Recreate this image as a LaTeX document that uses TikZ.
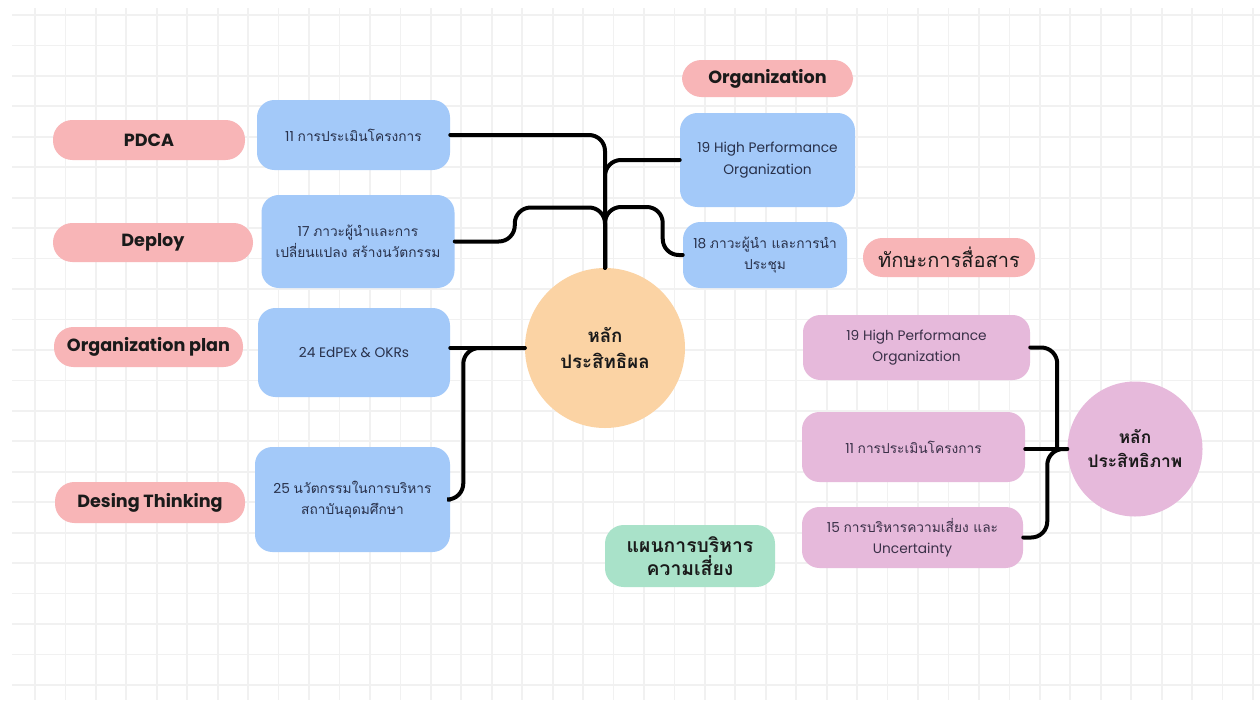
\documentclass[tikz,border=0pt]{standalone}
\usepackage{fontspec}
\setmainfont{Poppins}
\newfontfamily\thai[Script=Thai]{Loma}
\usetikzlibrary{calc}

\definecolor{gridc}{HTML}{F1F1F1}
\definecolor{bluec}{HTML}{A3C9F9}
\definecolor{pillc}{HTML}{F8B5B7}
\definecolor{peachc}{HTML}{FBD3A4}
\definecolor{orchidc}{HTML}{E6B9DB}
\definecolor{mintc}{HTML}{A9E2C9}
\definecolor{inkc}{HTML}{1A1A1A}
\definecolor{boxtxt}{HTML}{28304A}
\definecolor{ptxt}{HTML}{3A3048}

\tikzset{
  gridline/.style={draw=gridc, line width=1.3pt},
  conn/.style={draw=black, line width=3pt, rounded corners=12pt, line cap=round},
  pill/.style={rectangle, fill=pillc, rounded corners=14.5pt, inner sep=0pt,
    align=center, text=inkc, font=\bfseries\fontsize{13.2}{15}\selectfont},
  bluebox/.style={rectangle, fill=bluec, rounded corners=13pt, inner sep=0pt,
    align=center, text=boxtxt, font=\fontsize{10.3}{16}\selectfont},
  pinkbox/.style={rectangle, fill=orchidc, rounded corners=13pt, inner sep=0pt,
    align=center, text=ptxt, font=\fontsize{10.3}{16}\selectfont},
  hubnode/.style={circle, inner sep=0pt, align=center, text=inkc,
    font=\thai\bfseries\fontsize{14}{19}\selectfont},
}

\begin{document}
\begin{tikzpicture}[x=0.75pt, y=-0.75pt]
  % page and squared paper
  \fill[white] (0,0) rectangle (1260,700);
  \useasboundingbox (0,0) rectangle (1260,700);
  \foreach \i in {0,...,22}
    \draw[gridline] (12,{15+\i*30.45}) -- (1260,{15+\i*30.45});
  \foreach \i in {0,...,40}
    \draw[gridline] ({35+\i*30.45},8) -- ({35+\i*30.45},700);

  % left-hand tags
  \node[pill, minimum width=144pt, minimum height=30pt] (tpdca) at (149,140) {PDCA};
  \node[pill, minimum width=150pt, minimum height=29.25pt] (tdeploy) at (153,242.5) {Deploy};
  \node[pill, minimum width=141.75pt, minimum height=30pt] (torgplan) at (148.5,347) {Organization plan};
  \node[pill, minimum width=142.5pt, minimum height=30.75pt] (tdesign) at (150,502.5) {Desing Thinking};

  % left topics
  \node[bluebox, minimum width=144.75pt, minimum height=52.5pt] (b11) at (353.5,135)
    {11 {\thai การประเมินโครงการ}};
  \node[bluebox, minimum width=144.75pt, minimum height=69.75pt] (b17) at (358,241.5)
    {17 {\thai ภาวะผู้นำและการ}\\{\thai เปลี่ยนแปลง สร้างนวัตกรรม}};
  \node[bluebox, minimum width=144pt, minimum height=66.75pt] (b24) at (354,352.5)
    {24 EdPEx \& OKRs};
  \node[bluebox, minimum width=146.25pt, minimum height=78.75pt] (b25) at (352.5,499.5)
    {25 {\thai นวัตกรรมในการบริหาร}\\{\thai สถาบันอุดมศึกษา}};

  % right topics of the first hub
  \node[pill, minimum width=128.25pt, minimum height=27.75pt] (torg) at (767.5,78.5) {Organization};
  \node[bluebox, minimum width=131.25pt, minimum height=70.5pt] (b19) at (767.5,160)
    {19 High Performance\\Organization};
  \node[bluebox, minimum width=123pt, minimum height=49.5pt] (b18) at (765,255)
    {18 {\thai ภาวะผู้นำ และการนำ}\\{\thai ประชุม}};
  \node[pill, minimum width=129pt, minimum height=29.25pt,
        font=\thai\fontsize{15}{18}\selectfont] (tskill) at (949,257.5) {ทักษะการสื่อสาร};

  % hubs
  \node[hubnode, fill=peachc, minimum size=120pt] (hub) at (605,348) {หลัก\\ประสิทธิผล};
  \node[hubnode, fill=orchidc, minimum size=101.25pt,
        font=\thai\bfseries\fontsize{13}{18}\selectfont] (phub) at (1135,449) {หลัก\\ประสิทธิภาพ};

  % topics of the second hub
  \node[pinkbox, minimum width=170.25pt, minimum height=48.75pt] (p19) at (916.5,347.5)
    {19 High Performance\\Organization};
  \node[pinkbox, minimum width=167.25pt, minimum height=52.5pt] (p11) at (913.5,447)
    {11 {\thai การประเมินโครงการ}};
  \node[pinkbox, minimum width=165.75pt, minimum height=45.75pt] (p15) at (912.5,537.5)
    {15 {\thai การบริหารความเสี่ยง และ}\\Uncertainty};

  % risk plan tag
  \node[rectangle, fill=mintc, rounded corners=14pt, inner sep=0pt, align=center,
        minimum width=127.5pt, minimum height=46.5pt, text=inkc,
        font=\thai\bfseries\fontsize{14.5}{17}\selectfont] (tplan) at (690,556)
    {แผนการบริหาร\\ความเสี่ยง};

  % connectors into the first hub
  \draw[conn] (b11.east) -| (hub.north);
  \draw[conn] (b19.west) -| (hub.north);
  \draw[conn] (b17.east) -- ++(60,0) -- ++(0,-34) -| (hub.north);
  \draw[conn] (b18.west) -- ++(-20,0) -- ++(0,-48) -| (hub.north);
  \draw[conn] (b24.east |- hub.west) -- (hub.west);
  \draw[conn] (b25.east) -- ++(13,0) |- (hub.west);

  % connectors into the second hub
  \draw[conn] (p19.east) -| ($(phub.west)+(-10,0)$);
  \draw[conn] (p11.east |- phub.west) -- (phub.west);
  \draw[conn] (p15.east) -- ++(24,0) |- (phub.west);
\end{tikzpicture}
\end{document}
